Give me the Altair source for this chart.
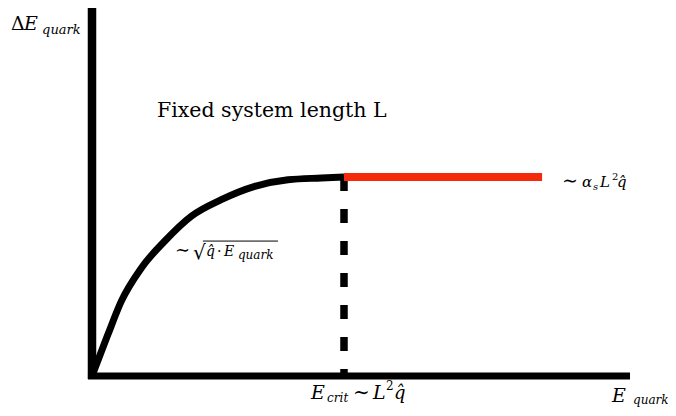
import altair as alt
import pandas as pd

# ---- data (E in units of E_crit, dE in units of the plateau) ----
curve_E = [0.0, 0.063, 0.116, 0.196, 0.288, 0.394, 0.513, 0.646, 0.778, 0.910, 1.0]
curve_dE = [0.0, 0.208, 0.375, 0.543, 0.677, 0.803, 0.886, 0.953, 0.986, 0.995, 1.0]

E_crit = 1.0
plateau = 1.0
E_end = 1.786
axis_x_start = -0.016
axis_x_end = 2.135
axis_y_start = -0.015
axis_y_end = 1.88

# annotation pieces: text, E, dE, size, style
lab_text = ["Δ", "E", "quark",
            "Fixed system length L",
            "∼", "α", "s", "L", "2", "q̂",
            "∼", "√", "q̂", "·", "E", "quark",
            "E", "crit", "∼", "L", "2", "q̂",
            "E", "quark"]
lab_E = [-0.321, -0.270, -0.198,
         0.258,
         1.865, 1.944, 1.988, 2.016, 2.063, 2.083,
         0.329, 0.401, 0.452, 0.496, 0.524, 0.579,
         0.869, 0.933, 1.036, 1.115, 1.167, 1.198,
         2.063, 2.147]
lab_dE = [1.739, 1.739, 1.719,
          1.302,
          0.950, 0.950, 0.935, 0.950, 0.985, 0.950,
          0.603, 0.588, 0.603, 0.603, 0.603, 0.588,
          -0.116, -0.131, -0.116, -0.116, -0.070, -0.116,
          -0.131, -0.141]
lab_size = [19, 19, 13,
            20.5,
            19, 15, 10, 15, 10, 15,
            18, 20, 14, 14, 14, 12,
            19, 12, 20, 19, 12, 18,
            19, 12]
lab_style = ["normal", "italic", "italic",
             "normal",
             "normal", "italic", "italic", "italic", "normal", "italic",
             "normal", "normal", "italic", "normal", "italic", "italic",
             "italic", "italic", "normal", "italic", "normal", "italic",
             "italic", "italic"]

FONT = "DejaVu Serif"

xs = alt.Scale(domain=[-0.3333, 2.2857], nice=False, zero=False)
ys = alt.Scale(domain=[-0.1608, 1.8492], nice=False, zero=False)

curve_df = pd.DataFrame({"E": curve_E, "dE": curve_dE, "o": range(len(curve_E))})
xaxis_df = pd.DataFrame({"x": [axis_x_start], "x2": [axis_x_end], "y": [0.0]})
yaxis_df = pd.DataFrame({"x": [0.0], "y": [axis_y_start], "y2": [axis_y_end]})
dash_df = pd.DataFrame({"x": [E_crit], "y": [plateau], "y2": [0.0]})
red_df = pd.DataFrame({"x": [E_crit], "x2": [E_end], "y": [plateau]})
bar_df = pd.DataFrame({"x": [0.440], "x2": [0.738], "y": [0.678]})
lab_df = pd.DataFrame({"t": lab_text, "x": lab_E, "y": lab_dE,
                       "s": lab_size, "st": lab_style})

xaxis = alt.Chart(xaxis_df).mark_rule(color="black", strokeWidth=7).encode(
    x=alt.X("x:Q", scale=xs, axis=None), x2="x2:Q",
    y=alt.Y("y:Q", scale=ys, axis=None))

yaxis = alt.Chart(yaxis_df).mark_rule(color="black", strokeWidth=8.5).encode(
    x=alt.X("x:Q", scale=xs, axis=None),
    y=alt.Y("y:Q", scale=ys, axis=None), y2="y2:Q")

curve = alt.Chart(curve_df).mark_line(color="black", strokeWidth=7, interpolate="monotone",
                                       strokeJoin="round").encode(
    x=alt.X("E:Q", scale=xs, axis=None),
    y=alt.Y("dE:Q", scale=ys, axis=None),
    order="o:Q")

dash = alt.Chart(dash_df).mark_rule(color="black", strokeWidth=7.5, strokeDash=[14, 18]).encode(
    x=alt.X("x:Q", scale=xs, axis=None),
    y=alt.Y("y:Q", scale=ys, axis=None), y2="y2:Q")

red = alt.Chart(red_df).mark_rule(color="#f52a0a", strokeWidth=8).encode(
    x=alt.X("x:Q", scale=xs, axis=None), x2="x2:Q",
    y=alt.Y("y:Q", scale=ys, axis=None))

bar = alt.Chart(bar_df).mark_rule(color="black", strokeWidth=1).encode(
    x=alt.X("x:Q", scale=xs, axis=None), x2="x2:Q",
    y=alt.Y("y:Q", scale=ys, axis=None))

def text_layer(style):
    return alt.Chart(lab_df).transform_filter(
        alt.datum.st == style
    ).mark_text(align="left", baseline="alphabetic", font=FONT, fontStyle=style,
                color="black").encode(
        x=alt.X("x:Q", scale=xs, axis=None),
        y=alt.Y("y:Q", scale=ys, axis=None),
        text="t:N",
        size=alt.Size("s:Q", scale=None, legend=None))

chart = alt.layer(xaxis, yaxis, curve, dash, red, bar,
                  text_layer("normal"), text_layer("italic")).properties(
    width=660, height=400, padding=0, background="white",
    autosize=alt.AutoSizeParams(type="none")
).configure_view(stroke=None)

chart.save("out.html", embed_options={"renderer": "svg", "actions": False})
